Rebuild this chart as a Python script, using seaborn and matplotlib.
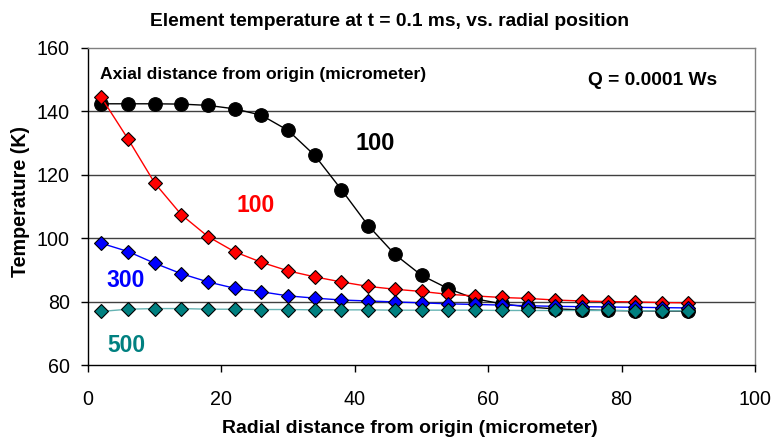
import matplotlib
matplotlib.use("Agg")
import matplotlib.pyplot as plt
import seaborn as sns
import pandas as pd

# Radial positions (micrometer)
radial = [2, 6, 10, 14, 18, 22, 26, 30, 34, 38, 42, 46, 50, 54, 58, 62, 66, 70, 74, 78, 82, 86, 90]

# Temperatures (K) for each axial distance
temp_100_circle = [142.4, 142.4, 142.4, 142.3, 141.9, 140.8, 138.8, 134.0, 126.1, 115.3, 104.0, 94.9,
                   88.3, 84.1, 80.9, 79.3, 78.3, 77.7, 77.4, 77.2, 77.1, 77.0, 77.0]
temp_100_diamond = [144.4, 131.3, 117.4, 107.4, 100.5, 95.7, 92.4, 89.7, 87.8, 86.2, 84.8, 83.9,
                    83.2, 82.3, 81.8, 81.3, 81.0, 80.5, 80.2, 80.0, 79.9, 79.7, 79.6]
temp_300 = [98.4, 95.8, 92.1, 88.8, 86.2, 84.2, 83.1, 81.8, 81.1, 80.5, 80.2, 79.9,
            79.6, 79.3, 79.1, 78.9, 78.7, 78.5, 78.4, 78.3, 78.2, 78.1, 78.0]
temp_500 = [76.9, 77.6, 77.8, 77.8, 77.6, 77.6, 77.5, 77.5, 77.4, 77.4, 77.4, 77.3,
            77.3, 77.3, 77.3, 77.2, 77.2, 77.2, 77.2, 77.2, 77.1, 77.1, 77.1]

x_ticks = [0, 20, 40, 60, 80, 100]
y_ticks = [60, 80, 100, 120, 140, 160]

title = "Element temperature at t = 0.1 ms, vs. radial position"
xlabel = "Radial distance from origin (micrometer)"
ylabel = "Temperature (K)"

sns.set_theme(style="white")
plt.rcParams['font.family'] = ['Liberation Sans', 'DejaVu Sans']
plt.rcParams.update({"text.color": "black", "axes.labelcolor": "black",
                     "xtick.color": "black", "ytick.color": "black"})

fig = plt.figure(figsize=(7.82, 4.40), dpi=100)
ax = fig.add_axes([88 / 782, 1 - 365 / 440, (755 - 88) / 782, (365 - 48) / 440])

series = [
    (temp_100_circle, "black", "black", "o", 9.8),
    (temp_100_diamond, "#ff0000", "#ff0000", "D", 7.2),
    (temp_300, "#0000ff", "#0000ff", "D", 7.2),
    (temp_500, "#008080", "#66b3b3", "D", 7.2),
]
for i, (vals, fc, lc, mk, ms) in enumerate(series):
    df = pd.DataFrame({"r": radial, "T": vals})
    sns.lineplot(data=df, x="r", y="T", ax=ax, color=lc, linewidth=1.0,
                 marker=mk, markersize=ms, markerfacecolor=fc,
                 markeredgecolor="black", markeredgewidth=0.8, zorder=3 + i)

ax.set_xlim(0, 100)
ax.set_ylim(60, 160)
ax.set_xticks(x_ticks)
ax.set_yticks(y_ticks)
ax.tick_params(axis="both", which="major", labelsize=14.2, direction="out",
               length=5, width=1, color="black", bottom=True, left=True)
ax.tick_params(axis="x", pad=13)
ax.tick_params(axis="y", pad=8)
for yv in y_ticks[1:-1]:
    ax.axhline(yv, color="#404040", linewidth=1.0, zorder=1)

for s in ["left", "bottom"]:
    ax.spines[s].set_color("black")
    ax.spines[s].set_linewidth(1.0)
for s in ["top", "right"]:
    ax.spines[s].set_color("#808080")
    ax.spines[s].set_linewidth(1.0)

ax.set_xlabel(xlabel, fontsize=14, fontweight="bold")
ax.set_ylabel(ylabel, fontsize=14.2, fontweight="bold")
ax.xaxis.set_label_coords(0.483, -0.172)
ax.yaxis.set_label_coords(-0.0877, 0.516)
fig.text(389 / 782, 1 - 21 / 440, title, fontsize=13.8, fontweight="bold",
         ha="center", va="center")

ax.text(1.8, 151.5, "Axial distance from origin (micrometer)", fontsize=12.6,
        fontweight="bold", ha="left", va="center")
ax.text(74.9, 149.6, "Q = 0.0001 Ws", fontsize=13.8, fontweight="bold",
        ha="left", va="center")
ax.text(43.0, 129.8, "100", fontsize=17, fontweight="bold", color="black",
        ha="center", va="center")
ax.text(25.1, 110.2, "100", fontsize=16.5, fontweight="bold", color="#ff0000",
        ha="center", va="center")
ax.text(5.6, 86.8, "300", fontsize=16.5, fontweight="bold", color="#0000ff",
        ha="center", va="center")
ax.text(5.7, 66.1, "500", fontsize=16.5, fontweight="bold", color="#008080",
        ha="center", va="center")

fig.savefig("out.png", dpi=100)
